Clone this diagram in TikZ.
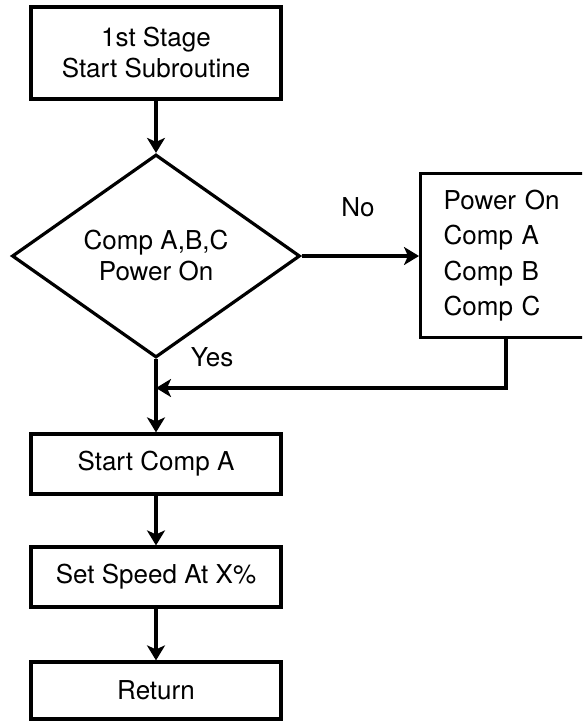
\documentclass[tikz,border=0pt]{standalone}
\usepackage{fontspec}
\setmainfont{TeX Gyre Heros}
\usetikzlibrary{shapes.geometric,arrows.meta,calc}
\begin{document}
\begin{tikzpicture}[x=1pt,y=-1pt,
  every node/.style={font=\fontsize{26}{31}\selectfont},
  stepbox/.style={draw,line width=3.2pt,minimum width=250pt,inner sep=0pt,align=center},
  decision/.style={draw,diamond,line width=3.2pt,minimum width=288pt,minimum height=203pt,inner sep=0pt,align=center},
  flow/.style={line width=3.2pt,-{Stealth[length=15pt,width=18pt,inset=4pt]}}]
  \clip (0,0) rectangle (582,721);
  % main column
  \node[stepbox,minimum height=92pt] (start) at (156,53) {1st Stage\\Start Subroutine};
  \node[decision] (check) at (156,256) {Comp A,B,C\\Power On};
  \node[stepbox,minimum height=60pt] (compa) at (156,464) {Start Comp A};
  \node[stepbox,minimum height=60pt] (speed) at (156,577) {Set Speed At X\%};
  \node[stepbox,minimum height=57pt] (ret) at (156,690.5) {Return};
  % side branch, running off the right edge
  \node[draw,line width=3.2pt,anchor=north west,text width=150pt,inner xsep=23pt,inner ysep=0pt,
        minimum height=164pt,align=left,font=\fontsize{26}{35.5}\selectfont]
        (power) at (419,172) {Power On\\Comp A\\Comp B\\Comp C};
  \node (no) at (358,207) {No};
  \node (yes) at (212,357) {Yes};
  \coordinate (merge) at (156,388);
  % connectors
  \draw[flow] (start) -- (check.north);
  \draw[flow] (check.east) -- (power.west |- check.east);
  \draw[flow] ($(power.south west)+(87,0)$) |- (merge);
  \draw[flow] (check.south) -- (compa.north);
  \draw[flow] (compa) -- (speed);
  \draw[flow] (speed) -- (ret);
\end{tikzpicture}
\end{document}
